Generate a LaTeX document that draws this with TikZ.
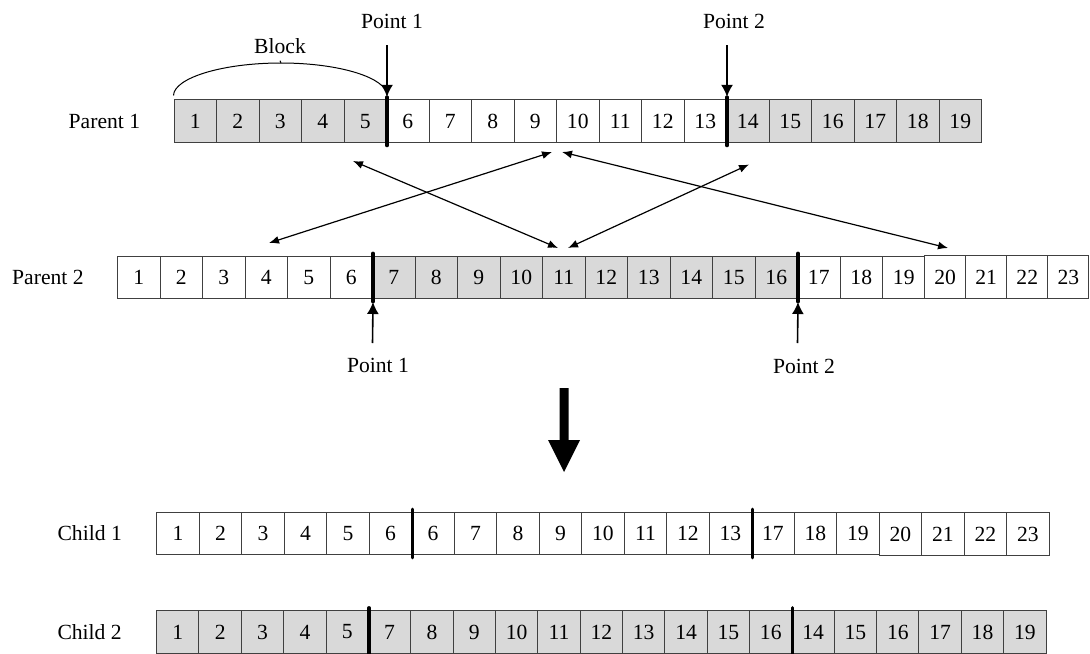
\documentclass[tikz,border=0pt]{standalone}
\usepackage{fontspec}
\setmainfont{Liberation Serif}
\usetikzlibrary{arrows.meta,positioning}
\definecolor{cellgray}{HTML}{D9D9D9}
\definecolor{cellline}{HTML}{404040}
\newcommand{\cellseg}[7]{%
  \foreach \v [count=\i from #2] in {#7} {
    \node[cellbox,#6] (#1\i) at ({#3+(\i-0.5)*#5},#4) {\v};
  }}
\begin{document}
\begin{tikzpicture}[x=0.5pt,y=-0.5pt,
  font=\fontsize{10.8}{12}\selectfont,
  cellbox/.style={draw=cellline, line width=0.5pt, minimum width=21.25pt, minimum height=21.4pt, inner sep=0pt, anchor=center},
  shadedcell/.style={fill=cellgray},
  whitecell/.style={fill=white},
  divider/.style={line width=1.6pt, line cap=round},
  ptarrow/.style={line width=0.8pt, -{Latex[length=6pt,width=6pt]}},
  dbl/.style={line width=0.6pt, {Latex[length=5pt,width=4pt]}-{Latex[length=5pt,width=4pt]}},
  rowlabel/.style={inner sep=0pt}]
\useasboundingbox (0,0) rectangle (1090,653);

% Parent 1
\cellseg{pa}{1}{174}{121.35}{42.5}{shadedcell}{1,2,3,4,5}
\cellseg{pa}{6}{174}{121.35}{42.5}{whitecell}{6,7,8,9,10,11,12,13}
\cellseg{pa}{14}{174}{121.35}{42.5}{shadedcell}{14,15,16,17,18,19}
% Parent 2
\cellseg{pb}{1}{117.5}{277.5}{42.5}{whitecell}{1,2,3,4,5,6}
\cellseg{pb}{7}{117.5}{277.5}{42.5}{shadedcell}{7,8,9,10,11,12,13,14,15,16}
\cellseg{pb}{17}{117.5}{277.5}{42.5}{whitecell}{17,18,19}
\cellseg{pb}{20}{143.6}{277}{41.1}{whitecell,minimum width=20.55pt}{20,21,22,23}
% Child 1
\cellseg{ca}{1}{156.7}{533.5}{42.5}{whitecell}{1,2,3,4,5,6,6,7,8,9,10,11,12,13,17,18,19}
\cellseg{ca}{18}{156.7}{534}{42.5}{whitecell}{20,21,22,23}
% Child 2
\cellseg{cb}{1}{156.7}{632}{42.35}{shadedcell}{1,2,3,4,5,7,8,9,10,11,12,13,14,15,16,14,15,16,17,18,19}

% dividers
\foreach \c in {pa5,pa13,pb6,pb16,ca6,ca14,cb5,cb15}
  \draw[divider] ([yshift=1.2pt]\c.north east) -- ([yshift=-1.2pt]\c.south east);

% row labels
\node[rowlabel, left=16.5pt of pa1] (lpa) {Parent 1};
\node[rowlabel, left=16.5pt of pb1] (lpb) {Parent 2};
\node[rowlabel, left=17pt of ca1] (lca) {Child 1};
\node[rowlabel, left=17pt of cb1] (lcb) {Child 2};

% crossover points
\node (t1) at (392,21.5) {Point 1};
\node (t2) at (734,21.5) {Point 2};
\coordinate (t1s) at (387,45);
\coordinate (t2s) at (727,45);
\draw[ptarrow] (t1s) -- ([yshift=1.3pt]pa5.north east);
\draw[ptarrow] (t2s) -- ([yshift=1.3pt]pa13.north east);
\node (b1) at (378,365) {Point 1};
\node (b2) at (804,366) {Point 2};
\coordinate (b1s) at (372.5,343);
\coordinate (b2s) at (797.5,343);
\draw[ptarrow] (b1s) -- ([yshift=-1.3pt]pb6.south east);
\draw[ptarrow] (b2s) -- ([yshift=-1.3pt]pb16.south east);

% block brace
\node (blk) at (280,46) {Block};
\coordinate (brtop) at (281,63);
\draw[line width=0.5pt] ([yshift=2pt]pa1.north west) .. controls (174,78) and (222,63) .. (brtop) .. controls (340,63) and (387,78) .. ([yshift=2pt]pa5.north east);
\draw[line width=0.5pt] (brtop) -- (blk.south);

% exchange arrows
\coordinate (d1a) at (269,243); \coordinate (d1b) at (552,152);
\coordinate (d2a) at (353,161); \coordinate (d2b) at (558,248);
\coordinate (d3a) at (562,152); \coordinate (d3b) at (948,248);
\coordinate (d4a) at (568,248); \coordinate (d4b) at (749,164.5);
\draw[dbl] (d1a) -- (d1b);
\draw[dbl] (d2a) -- (d2b);
\draw[dbl] (d3a) -- (d3b);
\draw[dbl] (d4a) -- (d4b);

% big arrow
\fill (559.5,388) -- (568.5,388) -- (568.5,440) -- (580,440) -- (564,472) -- (548,440) -- (559.5,440) -- cycle;
\end{tikzpicture}
\end{document}
